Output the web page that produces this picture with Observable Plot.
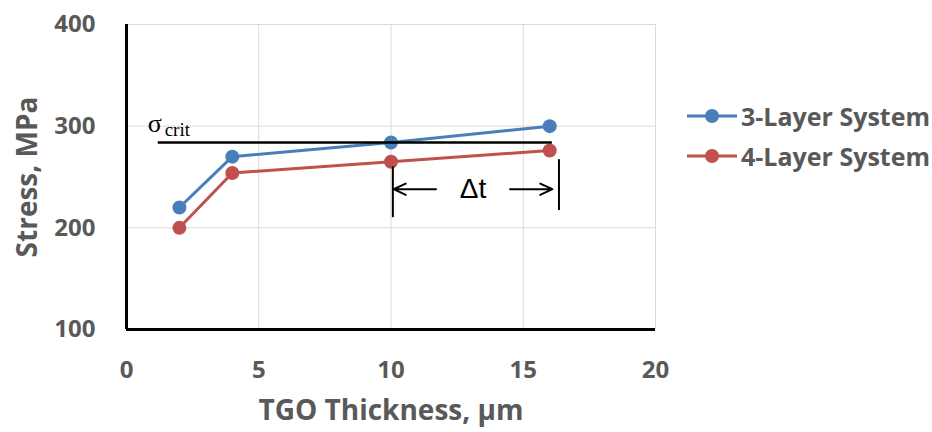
<!DOCTYPE html>
<html>
<head>
<meta charset="utf-8">
<script src="https://cdn.jsdelivr.net/npm/d3@7"></script>
<script src="https://cdn.jsdelivr.net/npm/@observablehq/plot@0.6"></script>
<style>
  body { margin: 0; background: #fff; }
  #wrap { position: relative; width: 932px; height: 432px; font-family: "Open Sans", sans-serif; }
  #legend { position: absolute; left: 686px; top: 96px; }
  .row { display: flex; align-items: center; height: 40px; }
  .row span { font-size: 25px; font-weight: bold; color: #595959; margin-left: 3px; }
</style>
</head>
<body>
<div id="wrap"></div>
<script>
// ---- data ----
const thickness = [2, 4, 10, 16];
const stress3Layer = [220, 270, 284, 300];
const stress4Layer = [200, 254, 265, 276];
const seriesNames = ["3-Layer System", "4-Layer System"];
const seriesColors = ["#4a7ebb", "#c0504d"];
const xTicks = [0, 5, 10, 15, 20];
const yTicks = [100, 200, 300, 400];
// annotations (data units)
const sigmaCrit = 284;
const sigmaSpan = [1.2, 16.1];
const sigmaLabelX = [0.8];
const bracketX = [10.07, 16.35];
const bracketY1 = [210, 217];
const bracketY2 = [260, 267];
const arrowY = 238;
const arrowFrom = [11.7, 14.5];
const arrowTo = [10.1, 16.1];
const deltaLabelX = [13.1];

const rows = [];
thickness.forEach((t, i) => {
  rows.push({t, s: stress3Layer[i], series: seriesNames[0]});
});
thickness.forEach((t, i) => {
  rows.push({t, s: stress4Layer[i], series: seriesNames[1]});
});
const brackets = bracketX.map((x, i) => ({x, y1: bracketY1[i], y2: bracketY2[i]}));
const arrows = arrowFrom.map((x1, i) => ({x1, x2: arrowTo[i], y: arrowY}));

const chart = Plot.plot({
  width: 932,
  height: 432,
  marginLeft: 126,
  marginRight: 277,
  marginTop: 24,
  marginBottom: 103,
  style: {fontFamily: "'Open Sans', sans-serif", background: "#fff"},
  x: {domain: [0, 20]},
  y: {domain: [100, 400]},
  color: {domain: seriesNames, range: seriesColors},
  marks: [
    Plot.gridX(xTicks, {stroke: "#d9d9d9", strokeOpacity: 1}),
    Plot.gridY(yTicks, {stroke: "#d9d9d9", strokeOpacity: 1}),
    Plot.axisX(xTicks, {tickSize: 0, tickPadding: 31, fontSize: 24, fontWeight: "bold", color: "#595959", label: null}),
    Plot.axisY(yTicks, {tickSize: 0, tickPadding: 31, fontSize: 24, fontWeight: "bold", color: "#595959", label: null}),
    Plot.text(["TGO Thickness, µm"], {frameAnchor: "bottom", dy: 90, fontSize: 28, fontWeight: "bold", fill: "#595959"}),
    Plot.text(["Stress, MPa"], {frameAnchor: "left", textAnchor: "middle", dx: -98, rotate: -90, fontSize: 28, fontWeight: "bold", fill: "#595959"}),
    Plot.line(rows, {x: "t", y: "s", stroke: "series", strokeWidth: 3}),
    Plot.dot(rows, {x: "t", y: "s", fill: "series", r: 7}),
    Plot.ruleY([sigmaCrit], {x1: sigmaSpan[0], x2: sigmaSpan[1], stroke: "black", strokeWidth: 2.5}),
    Plot.text(sigmaLabelX, {x: d => d, y: sigmaCrit, text: () => "σ", textAnchor: "start", dy: -19, fontSize: 26, fontFamily: "'Liberation Serif', serif", fill: "black"}),
    Plot.text(sigmaLabelX, {x: d => d, y: sigmaCrit, text: () => "crit", textAnchor: "start", dx: 17, dy: -13, fontSize: 19, fontFamily: "'Liberation Serif', serif", fill: "black"}),
    Plot.ruleX(brackets, {x: "x", y1: "y1", y2: "y2", stroke: "black", strokeWidth: 2}),
    Plot.arrow(arrows, {x1: "x1", x2: "x2", y1: "y", y2: "y", stroke: "black", strokeWidth: 2, headLength: 10, headAngle: 50}),
    Plot.text(deltaLabelX, {x: d => d, y: arrowY, text: () => "Δt", fontSize: 28, fontFamily: "'Liberation Sans', sans-serif", fill: "black"}),
    Plot.ruleX([0], {stroke: "black", strokeWidth: 3}),
    Plot.ruleY([100], {stroke: "black", strokeWidth: 3})
  ]
});
const wrap = document.getElementById("wrap");
wrap.appendChild(chart);

const legend = document.createElement("div");
legend.id = "legend";
seriesNames.forEach((name, i) => {
  const row = document.createElement("div");
  row.className = "row";
  const sw = d3.create("svg").attr("width", 52).attr("height", 20);
  sw.append("line").attr("x1", 1).attr("x2", 51).attr("y1", 10).attr("y2", 10)
    .attr("stroke", seriesColors[i]).attr("stroke-width", 3);
  sw.append("circle").attr("cx", 26).attr("cy", 10).attr("r", 7).attr("fill", seriesColors[i]);
  row.appendChild(sw.node());
  const sp = document.createElement("span");
  sp.textContent = name;
  row.appendChild(sp);
  legend.appendChild(row);
});
wrap.appendChild(legend);
</script>
</body>
</html>
